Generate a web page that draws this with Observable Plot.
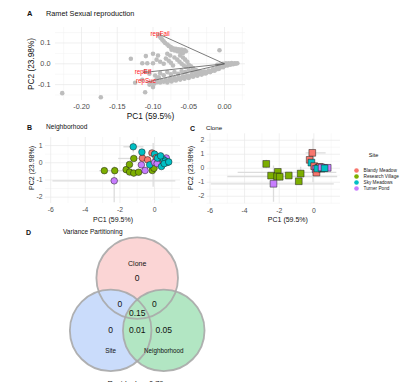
<!DOCTYPE html>
<html><head><meta charset="utf-8">
<script src="https://cdn.jsdelivr.net/npm/d3@7"></script>
<script src="https://cdn.jsdelivr.net/npm/@observablehq/plot@0.6"></script>
<style>
html,body{margin:0;padding:0;background:#fff;overflow:hidden;}
#wrap{position:relative;width:400px;height:382px;overflow:hidden;font-family:"Liberation Sans",Arial,Helvetica,sans-serif;}
#wrap svg{position:absolute;left:0;top:0;background:none !important;}
.t{position:absolute;white-space:nowrap;color:#111;line-height:1;}
</style></head><body><div id="wrap"></div>
<script>
// ---------------- DATA ----------------
// Panel A: PCA scores (gray points)
const pcaA_x = [-0.227,-0.173,-0.131,-0.110,-0.115,-0.108,-0.100,-0.111,-0.115,-0.125,-0.111,-0.100,-0.093,-0.105,-0.097,-0.100,-0.007,-0.095,-0.105,
-0.092,-0.091,-0.089,-0.087,-0.085,-0.083,-0.080,-0.078,-0.075,-0.072,-0.068,-0.064,-0.060,-0.056,-0.070,-0.066,-0.062,-0.058,-0.074,-0.054,
-0.095,-0.090,-0.085,-0.082,-0.078,-0.075,-0.072,-0.070,-0.066,-0.063,-0.060,-0.057,-0.054,-0.050,-0.047,-0.062,-0.058,-0.055,-0.052,-0.080,-0.076,-0.044,-0.040,-0.036,-0.032,-0.028,
-0.092,-0.090,-0.085,-0.080,-0.075,-0.070,-0.065,-0.060,-0.055,-0.050,-0.045,
-0.102,-0.098,-0.094,-0.090,-0.088,-0.085,-0.082,-0.080,-0.078,-0.076,-0.074,-0.072,-0.070,-0.068,-0.066,-0.064,-0.062,-0.060,-0.058,-0.056,-0.054,-0.052,-0.050,-0.048,-0.046,-0.044,-0.042,-0.040,-0.038,-0.036,-0.034,-0.032,-0.030,-0.028,-0.026,-0.024,-0.022,-0.020,-0.018,-0.016,-0.014,-0.012,-0.010,-0.008,-0.006,-0.004,-0.002,0.000,0.002,0.004,0.006,0.008,0.010,0.012,0.014,0.016,0.018,-0.010,-0.006,-0.002,0.002,0.006,0.010];
const pcaA_y = [-0.141,-0.161,0.024,0.037,0.003,0.003,0.003,-0.036,-0.077,-0.091,-0.137,0.048,0.040,-0.048,-0.056,-0.112,0.065,-0.075,-0.100,
0.140,0.132,0.124,0.116,0.108,0.100,0.093,0.086,0.080,0.075,0.072,0.070,0.068,0.066,0.064,0.060,0.056,0.052,0.068,0.060,
0.020,0.010,0.000,0.025,0.015,0.005,-0.008,0.030,0.020,0.010,0.000,-0.008,-0.015,-0.005,-0.012,0.040,0.030,0.020,0.010,0.048,0.040,-0.020,-0.030,-0.036,-0.040,-0.045,
-0.065,-0.045,-0.055,-0.040,-0.050,-0.040,-0.048,-0.035,-0.040,-0.030,-0.035,
-0.092,-0.095,-0.088,-0.090,-0.082,-0.086,-0.078,-0.090,-0.080,-0.072,-0.085,-0.076,-0.068,-0.080,-0.072,-0.064,-0.076,-0.068,-0.060,-0.072,-0.064,-0.056,-0.068,-0.060,-0.052,-0.062,-0.055,-0.047,-0.057,-0.050,-0.042,-0.052,-0.045,-0.037,-0.046,-0.040,-0.032,-0.040,-0.034,-0.026,-0.033,-0.027,-0.020,-0.025,-0.018,-0.012,-0.016,-0.010,-0.005,-0.008,-0.002,-0.004,0.000,-0.002,0.002,0.001,0.003,-0.005,-0.003,0.000,0.002,0.003,0.004];
// Panel A: loading vectors
const vecNames = ["repFail","repEff","repSuc"];
const vecX = [-0.090,-0.114,-0.110];
const vecY = [0.140,-0.042,-0.089];
const vecOrigin = [0, 0];
const xTicksA = [-0.20,-0.15,-0.10,-0.05,0.00];
const yTicksA = [-0.1,0.0,0.1];

// Sites
const sites = ["Blandy Meadow","Research Village","Sky Meadows","Turner Pond"];
const siteCode = {BM:"Blandy Meadow", RV:"Research Village", SM:"Sky Meadows", TP:"Turner Pond"};

// Panel B: Neighborhood
const nbSite = ["RV","RV","RV","RV","RV","RV","RV","RV","RV","RV","TP","TP","TP","BM","BM","BM","SM","SM","SM","SM","BM","BM","BM","BM","TP","TP","TP","SM","SM","SM","SM","SM","SM","SM","SM"];
const nbX = [-2.90,-2.30,-1.64,-1.44,-1.20,-0.92,-1.45,-1.20,-0.13,-0.03,-2.33,-0.76,-0.55,-0.15,-0.70,-0.40,-1.23,-0.73,-0.28,0.00,0.10,0.25,0.20,0.45,0.00,0.15,0.68,0.17,0.40,0.52,0.62,0.74,0.35,0.56,0.82];
const nbY = [-0.46,-0.46,-0.40,-0.54,-0.60,-0.55,-0.10,0.25,-0.45,-0.32,-1.05,-0.12,-0.45,0.57,0.27,0.17,0.93,0.62,-0.12,0.50,0.30,0.10,0.00,0.15,0.02,-0.05,0.28,0.27,-0.22,0.18,0.10,0.02,0.40,-0.05,0.05];
// Panel B error bars
const nbHbarY  = [-1.05, 0.93, -0.46, 0.25];
const nbHbarX1 = [-5.90, -1.80, -3.20, -2.10];
const nbHbarX2 = [ 1.20, -0.64, -1.50, -0.80];
const nbVbarX  = [-2.33, -0.08, -1.23];
const nbVbarY1 = [-0.20, 1.15, 1.30];
const nbVbarY2 = [-2.30, -1.40, 0.60];
const xTicksBC = [-6,-4,-2,0];
const yTicksB = [-2,-1,0,1];

// Panel C: Clone
const clSite = ["RV","RV","RV","RV","RV","RV","RV","RV","TP","BM","BM","SM","BM","SM","TP","BM","BM","SM","SM","BM","TP","TP","SM"];
const clX = [-2.75,-2.47,-2.08,-2.12,-1.97,-1.45,-0.76,-0.87,-2.33,-0.09,-0.24,-0.14,0.02,0.29,0.10,0.15,0.35,0.45,0.20,0.55,0.45,0.80,0.62];
const clY = [0.31,-0.53,-0.26,-0.58,-0.61,-0.52,-0.38,-0.93,-1.11,1.10,0.60,0.40,0.15,0.05,-0.06,-0.31,0.10,-0.03,-0.02,0.02,0.05,0.03,0.00];
const clHbarY  = [-1.11, -0.59, -0.30, 1.10];
const clHbarX1 = [-5.95, -5.00, -4.40, -0.48];
const clHbarX2 = [ 1.15,  1.35,  1.30,  0.68];
const clVbarX  = [-2.33, -0.05, -2.75, -0.76];
const clVbarY1 = [ 0.20,  2.10,  0.60,  0.10];
const clVbarY2 = [-2.40, -1.00,  0.00, -0.80];
const yTicksC = [-2,-1,0,1,2];

// Panel D: variance partitioning
const vennSets = ["Clone","Site","Neighborhood"];
const vennRegionSets = [["Clone"],["Site"],["Neighborhood"],["Clone","Site"],["Clone","Neighborhood"],["Site","Neighborhood"],["Clone","Site","Neighborhood"]];
const vennValues = [0, 0, 0.05, 0, 0, 0.01, 0.15];
const residual = 0.79;

// ---------------- RENDER ----------------
const wrap = document.getElementById("wrap");
const FONT = '"Liberation Sans", Arial, Helvetica, sans-serif';
const palette = ["#F8766D","#7CAE00","#00BFC4","#C77CFF"];
const STYLE = {background:"none", fontFamily: FONT, overflow:"visible"};
function add(svg){ wrap.appendChild(svg); return svg; }
function minorTicks(major, domain){
  const step = major[1]-major[0], lo = Math.min(...domain), hi = Math.max(...domain), out=[];
  for (let k=-1; k<major.length; k++){ const v = major[0] + step*(k+0.5); if (v>=lo && v<=hi) out.push(v); }
  return out;
}
function txt(s, x, y, size, opt={}){
  const d = document.createElement("div");
  d.className = "t"; d.textContent = s;
  d.style.fontSize = size+"px";
  d.style.left = x+"px"; d.style.top = (y - size*0.5)+"px";
  if (opt.bold) d.style.fontWeight = "bold";
  if (opt.color) d.style.color = opt.color;
  if (opt.center) d.style.transform = "translateX(-50%)";
  wrap.appendChild(d);
}
function rtxt(s, cx, cy, size){
  const d = document.createElement("div");
  d.className = "t"; d.textContent = s;
  d.style.fontSize = size+"px";
  d.style.left = cx+"px"; d.style.top = cy+"px";
  d.style.transform = "translate(-50%,-50%) rotate(-90deg)";
  wrap.appendChild(d);
}
const gridMarks = (xt, yt, xd, yd) => [
  Plot.ruleX(minorTicks(xt, xd), {stroke:"#f1f1f1", strokeWidth:0.5}),
  Plot.ruleY(minorTicks(yt, yd), {stroke:"#f1f1f1", strokeWidth:0.5}),
  Plot.ruleX(xt, {stroke:"#e8e8e8", strokeWidth:0.7}),
  Plot.ruleY(yt, {stroke:"#e8e8e8", strokeWidth:0.7})
];

// Panel A
{
  const xd = [-0.2364, 0.0294], yd = [-0.1764, 0.1745];
  const pts = pcaA_x.map((x,i)=>({x, y:pcaA_y[i]}));
  const vecs = vecNames.map((n,i)=>({name:n, x:vecX[i], y:vecY[i]}));
  add(Plot.plot({
    width:400, height:382, marginLeft:55, marginRight:155, marginTop:27, marginBottom:282,
    style:STYLE, x:{domain:xd}, y:{domain:yd},
    marks:[
      ...gridMarks(xTicksA, yTicksA, xd, yd),
      Plot.dot(pts, {x:"x", y:"y", r:2.3, fill:"#bdbdbd"}),
      Plot.link(vecs, {x1:()=>vecOrigin[0], y1:()=>vecOrigin[1], x2:"x", y2:"y", stroke:"#5a5a5a", strokeWidth:0.8}),
      Plot.text(vecs, {x:"x", y:"y", text:"name", fill:"#ff1a1a", fontSize:6.3, dy:-1}),
      Plot.axisX(xTicksA, {tickSize:0, tickPadding:3, fontSize:7.3, color:"#4d4d4d", tickFormat:d=>d.toFixed(2), label:null}),
      Plot.axisY(yTicksA, {tickSize:0, tickPadding:5, fontSize:7.3, color:"#4d4d4d", tickFormat:d=>d.toFixed(1), label:null}),
      Plot.text(["PC1 (59.5%)"], {text:d=>d, frameAnchor:"bottom", lineAnchor:"middle", dy:15.5, fontSize:8.3, fill:"#111"})
    ]
  }));
  rtxt("PC2 (23.98%)", 30.5, 63.5, 8.3);
}

// Panel B
{
  const xd = [-6.3, 1.5], yd = [-2.37, 1.47];
  const pts = nbX.map((x,i)=>({x, y:nbY[i], site:siteCode[nbSite[i]]}));
  const hb = nbHbarY.map((y,i)=>({y, x1:nbHbarX1[i], x2:nbHbarX2[i]}));
  const vb = nbVbarX.map((x,i)=>({x, y1:nbVbarY1[i], y2:nbVbarY2[i]}));
  add(Plot.plot({
    width:400, height:382, marginLeft:45, marginRight:220, marginTop:137, marginBottom:179,
    style:STYLE, x:{domain:xd}, y:{domain:yd}, color:{domain:sites, range:palette},
    marks:[
      ...gridMarks(xTicksBC, yTicksB, xd, yd),
      Plot.link(hb, {x1:"x1", x2:"x2", y1:"y", y2:"y", stroke:"#dcdcdc", strokeWidth:1.3, clip:true}),
      Plot.link(vb, {x1:"x", x2:"x", y1:"y1", y2:"y2", stroke:"#dcdcdc", strokeWidth:1.3, clip:true}),
      Plot.dot(pts, {x:"x", y:"y", fill:"site", r:3.3, stroke:"#1a1a1a", strokeWidth:0.5}),
      Plot.axisX(xTicksBC, {tickSize:0, tickPadding:4, fontSize:6.8, color:"#4d4d4d", tickFormat:d=>String(d), label:null}),
      Plot.axisY(yTicksB, {tickSize:0, tickPadding:3, fontSize:6.8, color:"#4d4d4d", tickFormat:d=>String(d), label:null}),
      Plot.text(["PC1 (59.5%)"], {text:d=>d, frameAnchor:"bottom", lineAnchor:"middle", dy:16, fontSize:7, fill:"#111"})
    ]
  }));
  rtxt("PC2 (23.98%)", 31, 168, 7);
}

// Panel C
{
  const xd = [-6.16, 1.54], yd = [-2.54, 2.46];
  const pts = clX.map((x,i)=>({x, y:clY[i], site:siteCode[clSite[i]]}));
  const hb = clHbarY.map((y,i)=>({y, x1:clHbarX1[i], x2:clHbarX2[i]}));
  const vb = clVbarX.map((x,i)=>({x, y1:clVbarY1[i], y2:clVbarY2[i]}));
  add(Plot.plot({
    width:400, height:382, marginLeft:206.7, marginRight:60, marginTop:133.3, marginBottom:178.7,
    style:STYLE, x:{domain:xd}, y:{domain:yd}, color:{domain:sites, range:palette},
    marks:[
      ...gridMarks(xTicksBC, yTicksC, xd, yd),
      Plot.link(hb, {x1:"x1", x2:"x2", y1:"y", y2:"y", stroke:"#dcdcdc", strokeWidth:1.3, clip:true}),
      Plot.link(vb, {x1:"x", x2:"x", y1:"y1", y2:"y2", stroke:"#dcdcdc", strokeWidth:1.3, clip:true}),
      Plot.dot(pts, {x:"x", y:"y", fill:"site", symbol:"square", r:3.8, stroke:"#1a1a1a", strokeWidth:0.5}),
      Plot.axisX(xTicksBC, {tickSize:0, tickPadding:4, fontSize:6.8, color:"#4d4d4d", tickFormat:d=>String(d), label:null}),
      Plot.axisY(yTicksC, {tickSize:0, tickPadding:3, fontSize:6.8, color:"#4d4d4d", tickFormat:d=>String(d), label:null}),
      Plot.text(["PC1 (59.5%)"], {text:d=>d, frameAnchor:"bottom", lineAnchor:"middle", dy:16, dx:14, fontSize:7, fill:"#111"})
    ]
  }));
  rtxt("PC2 (23.98%)", 190, 168.3, 7);
}

// Legend for site
add(Plot.plot({
  width:400, height:382, marginLeft:356, marginRight:0, marginTop:0, marginBottom:0,
  style:STYLE, y:{type:"point", domain:sites, range:[165,192], axis:null}, color:{domain:sites, range:palette},
  marks:[
    Plot.dot(sites, {y:d=>d, fill:d=>d, r:2.3, frameAnchor:"left"}),
    Plot.text(sites, {y:d=>d, text:d=>d, frameAnchor:"left", lineAnchor:"middle", dx:7, textAnchor:"start", fontSize:4.7, fill:"#222"})
  ]
}));

// Panel D: Venn
{
  const centers = {Clone:[0,1.97], Site:[-1,0], Neighborhood:[1,0]};
  const fills = {Clone:"#FBD5D5", Site:"#CADCFB", Neighborhood:"#B2E6C3"};
  const circles = vennSets.map(s=>({set:s, x:centers[s][0], y:centers[s][1], color:fills[s]}));
  const regions = vennRegionSets.map((m,i)=>{
    let x = d3.mean(m, s=>centers[s][0]), y = d3.mean(m, s=>centers[s][1]);
    if (m.length===2){ const third = vennSets.find(s=>!m.includes(s)); x += 0.1*(x - centers[third][0]); }
    return {x, y, label: String(vennValues[i])};
  });
  const names = circles.map(c=>({name:c.set, x:c.x, y:c.y}));
  const svg = add(Plot.plot({
    width:400, height:382, style:STYLE,
    x:{domain:[-3,3], range:[57.05,216.35], axis:null},
    y:{domain:[-2,3], range:[383,250.25], axis:null},
    marks:[
      Plot.dot(circles, {x:"x", y:"y", r:40.8, fill:"color", stroke:"none", ariaLabel:"venn-fill"}),
      Plot.dot(circles, {x:"x", y:"y", r:40.8, fill:"none", stroke:"#a9a9a9", strokeWidth:1.8, strokeOpacity:0.9}),
      Plot.text(regions, {x:"x", y:"y", text:"label", fontSize:8.5, fill:"#111"}),
      Plot.text(names.filter(d=>d.y>0), {x:"x", y:"y", text:"name", dy:-14, fontSize:7, fill:"#111"}),
      Plot.text(names.filter(d=>d.y<=0), {x:"x", y:"y", text:"name", dy:21, fontSize:6.3, fill:"#111"})
    ]
  }));
  svg.querySelectorAll('g[aria-label="venn-fill"] circle').forEach(c=>{ c.style.mixBlendMode="multiply"; });
}

// Titles and captions
txt("A", 27, 14, 7.5, {bold:true});
txt("Ramet Sexual reproduction", 46, 14, 7.3);
txt("B", 27, 127.7, 7, {bold:true});
txt("Neighborhood", 46, 127.7, 6.6);
txt("C", 190, 128.3, 7, {bold:true});
txt("Clone", 206, 128.3, 6.2);
txt("Site", 373.5, 156, 5.6, {center:true});
txt("D", 26, 232.7, 7, {bold:true});
txt("Variance Partitioning", 63, 232.7, 6.5);
txt("Residuals = " + residual, 135.5, 383.8, 7.5, {center:true});
</script></body></html>
